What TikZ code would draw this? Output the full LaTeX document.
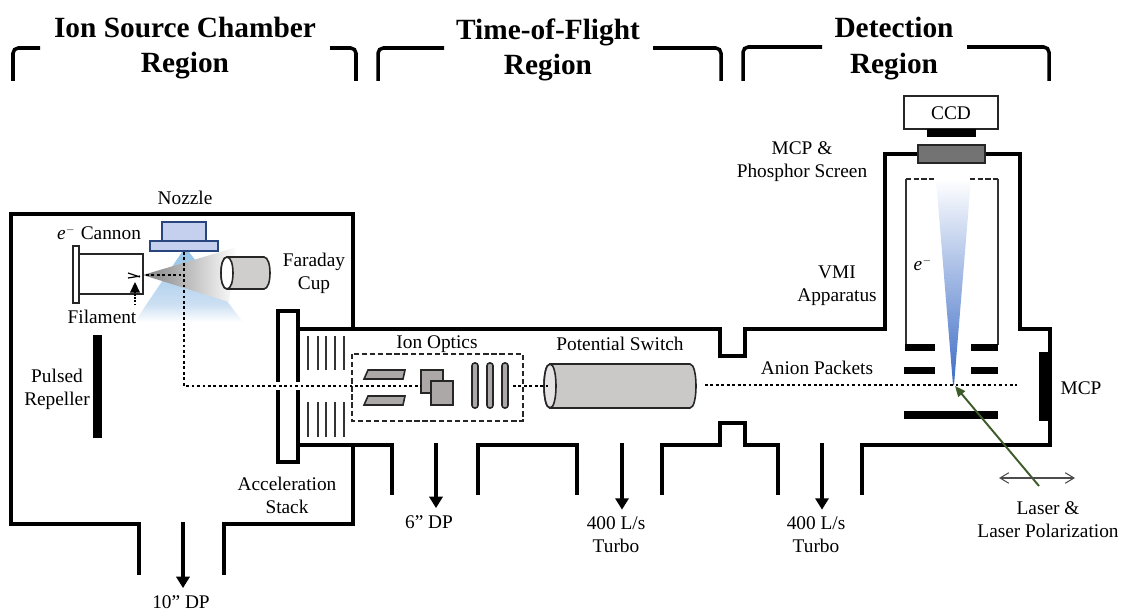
\documentclass[tikz,border=0pt]{standalone}
\usepackage{fontspec}
\setmainfont{Liberation Serif}
\usepackage{tikz}
\usetikzlibrary{arrows.meta,calc,positioning}
\definecolor{nozzleblue}{RGB}{196,208,238}
\definecolor{nozzleedge}{RGB}{40,70,125}
\definecolor{plumeblue}{RGB}{150,196,232}
\definecolor{plumepale}{RGB}{205,224,243}
\definecolor{conetip}{RGB}{60,108,198}
\definecolor{lasergreen}{RGB}{62,92,42}
\definecolor{optgray}{RGB}{172,168,168}
\definecolor{cylgray}{RGB}{203,200,200}
\tikzset{
  wall/.style={draw=black, line width=2.3pt, line join=miter},
  bracket/.style={draw=black, line width=2pt, rounded corners=3pt},
  heading/.style={font=\fontsize{16.7}{20}\selectfont\bfseries, align=center, inner sep=0pt},
  lbl/.style={font=\fontsize{11}{13}\selectfont, align=center, inner sep=0pt},
  outline/.style={draw=black!85, line width=0.9pt},
  optic/.style={outline, fill=optgray},
  plate/.style={draw=black!80, line width=0.8pt},
  beam/.style={draw=black, line width=1.6pt, dash pattern=on 1.6pt off 1.5pt},
  pump/.style={-{Triangle[length=6.5pt,width=7.5pt]}, line width=2pt, shorten >=4pt},
  nozzlepart/.style={draw=nozzleedge, fill=nozzleblue, line width=1pt}
}
\begin{document}
\begin{tikzpicture}[x=0.02cm,y=-0.02cm]
  \useasboundingbox (0,0) rectangle (1121,611);
  % region headings
  \node[heading] (srchead) at (185,48) {Ion Source Chamber\\Region};
  \node[heading] (tofhead) at (548,50) {Time-of-Flight\\Region};
  \node[heading] (dethead) at (894,48.5) {Detection\\Region};
  \draw[bracket] (13,81)--(13,48)--(40,48);
  \draw[bracket] (330,48)--(356,48)--(356,81);
  \draw[bracket] (378,81)--(378,48)--(444,48);
  \draw[bracket] (653,48)--(721,48)--(721,81);
  \draw[bracket] (743,81)--(743,47)--(822,47);
  \draw[bracket] (967,47)--(1049,47)--(1049,81);
  % chamber walls
  \draw[wall] (353,329)--(353,214)--(11,214)--(11,524)--(139,524)--(139,575);
  \draw[wall] (224,575)--(224,524)--(353,524)--(353,445);
  \draw[wall] (298,329)--(720,329)--(720,356)--(745,356)--(745,329)--(885,329)--(885,154)--(918,154);
  \draw[wall] (985,154)--(1020,154)--(1020,329)--(1050,329)--(1050,445)--(862,445)--(862,495);
  \draw[wall] (298,445)--(392,445)--(392,495);
  \draw[wall] (478,495)--(478,445)--(577,445)--(577,495);
  \draw[wall] (662,495)--(662,445)--(720,445)--(720,423)--(745,423)--(745,445)--(778,445)--(778,495);
  % plumes out of the nozzle and the cannon
  \shade[top color=plumeblue, bottom color=plumepale] (182,252)--(189,252)--(230,305)--(146,305)--cycle;
  \shade[top color=plumepale, bottom color=white] (146,305)--(230,305)--(243,322)--(135,322)--cycle;
  \shade[left color=black!50, right color=white] (143,275)--(237,247)--(229,302)--cycle;
  % source parts
  \draw[nozzlepart] (162,222) rectangle (206,241);
  \draw[nozzlepart] (150,241) rectangle (218,251);
  \draw[outline] (73,246) rectangle (79,303);
  \draw[outline] (79,254) rectangle (143,294);
  \draw[line width=0.7pt] (128,273)--(140,277) (128,278)--(140,276);
  \fill[black] (93,335) rectangle (102,438);
  % Faraday cup
  \draw[outline, fill=cylgray!90!white] (227,257)--(264,257) .. controls (272,257) and (272,289) .. (264,289)--(227,289) .. controls (219,289) and (219,257) .. (227,257)--cycle;
  \draw[outline, fill=white] (227,257) .. controls (235,257) and (235,289) .. (227,289) .. controls (219,289) and (219,257) .. (227,257)--cycle;
  % acceleration stack
  \draw[wall, fill=white] (278,311) rectangle (298,462);
  \foreach \x in {308,318,326,335,344}{
    \draw[plate] (\x,336)--(\x,370);
    \draw[plate] (\x,402)--(\x,437);
  }
  % ion optics
  \draw[draw=black!85, line width=0.9pt, dash pattern=on 3pt off 1.6pt] (352,354) rectangle (523,421);
  \draw[optic] (368,370)--(405,370)--(403,379)--(364,379)--cycle;
  \draw[optic] (368,396)--(405,396)--(403,405)--(364,405)--cycle;
  \draw[optic] (421,370) rectangle (443,393);
  \draw[optic] (431,381) rectangle (453,405);
  \foreach \x in {475,490,505}{
    \draw[optic, rounded corners=1.5pt] (\x-3,363) rectangle (\x+3,408);
  }
  % potential switch
  \draw[outline, fill=cylgray] (550,364)--(690,364) .. controls (698,364) and (698,408) .. (690,408)--(550,408) .. controls (542,408) and (542,364) .. (550,364)--cycle;
  \draw[outline, fill=white, fill opacity=0.5] (550,364) .. controls (558,364) and (558,408) .. (550,408) .. controls (542,408) and (542,364) .. (550,364)--cycle;
  % detector end
  \draw[outline, line width=1.1pt] (904,96) rectangle (998,129);
  \fill[black] (927,129) rectangle (976,137);
  \draw[draw=black!85, line width=1pt, fill=black!55] (918,145) rectangle (985,163);
  \shade[top color=white, bottom color=conetip] (936,179)--(971,179)--(954,385)--(953,385)--cycle;
  \draw[plate, line width=1pt] (906,179)--(906,345) (998,179)--(998,345);
  \draw[draw=black!85, line width=1pt, dash pattern=on 3pt off 1.4pt] (906,179)--(936,179) (970,179)--(998,179);
  \fill[black] (905,344) rectangle (935,351);
  \fill[black] (971,344) rectangle (998,351);
  \fill[black] (904,367) rectangle (935,374);
  \fill[black] (971,367) rectangle (998,374);
  \fill[black] (904,411) rectangle (998,419);
  \fill[black] (1039,352) rectangle (1050,421);
  % ion beam, with its gap through the flange
  \draw[white, line width=4pt] (276,386)--(300,386);
  \draw[beam] (184,252)--(184,386)--(421,386);
  \draw[beam] (513,386)--(548,386);
  \draw[beam] (705,385)--(1017,385);
  \draw[beam] (146,275)--(184,275);
  % labels
  \node[lbl] (nozzle) at (185,198) {Nozzle};
  \node[lbl] (cannon) at (99,233) {\textit{e}$^{\scriptscriptstyle -}$ Cannon};
  \node[lbl] (faraday) at (314,273) {Faraday\\Cup};
  \node[lbl] (filament) at (102,317) {Filament};
  \node[lbl] (repeller) at (57,389) {Pulsed\\Repeller};
  \node[lbl] (accstack) at (287,495) {Acceleration\\Stack};
  \node[lbl] (ionoptics) at (437,344) {Ion Optics};
  \node[lbl] (potswitch) at (620,344) {Potential Switch};
  \node[lbl] (anion) at (817,368) {Anion Packets};
  \node[lbl] (mcpend) at (1081,388) {MCP};
  \node[lbl] (ccd) at (951,113) {CCD};
  \node[lbl] (phosphor) at (802,162) {MCP \&\\Phosphor Screen};
  \node[lbl] (vmi) at (837,286) {VMI\\Apparatus};
  \node[lbl] (electron) at (923,264) {\textit{e}$^{\scriptscriptstyle -}$};
  \node[lbl] (laser) at (1048,520) {Laser \&\\Laser Polarization};
  \node[lbl] (dpten) at (181,602) {10” DP};
  \node[lbl] (dpsix) at (429,522) {6” DP};
  \node[lbl] (turboa) at (616,535) {400 L/s\\Turbo};
  \node[lbl] (turbob) at (816,535) {400 L/s\\Turbo};
  % pumping arrows
  \coordinate (tenin) at (183,522);
  \coordinate (sixin) at (436,443);
  \coordinate (turboain) at (622,443);
  \coordinate (turbobin) at (822,443);
  \foreach \c/\n in {tenin/dpten,sixin/dpsix,turboain/turboa,turbobin/turbob}{
    \draw[pump] (\c)--(\c |- \n.north);
  }
  % filament pointer, laser and polarization
  \coordinate (filtail) at (135,305);
  \coordinate (filtip) at (135,282);
  \draw[line width=0.8pt, densely dotted] (filtail)--(135,292);
  \draw[-{Triangle[length=6pt,width=5.5pt]}, line width=0.9pt] (135,292)--(filtip);
  \coordinate (laserstart) at (1039,486);
  \coordinate (laserfocus) at (955,386);
  \draw[-{Triangle[length=6pt,width=5pt]}, lasergreen, line width=1.1pt] (laserstart)--(laserfocus);
  \coordinate (polleft) at (999,478);
  \coordinate (polright) at (1075,478);
  \draw[{Straight Barb[length=5pt,width=6pt]}-{Straight Barb[length=5pt,width=6pt]}, black!70, line width=0.6pt] (polleft)--(polright);
\end{tikzpicture}
\end{document}
